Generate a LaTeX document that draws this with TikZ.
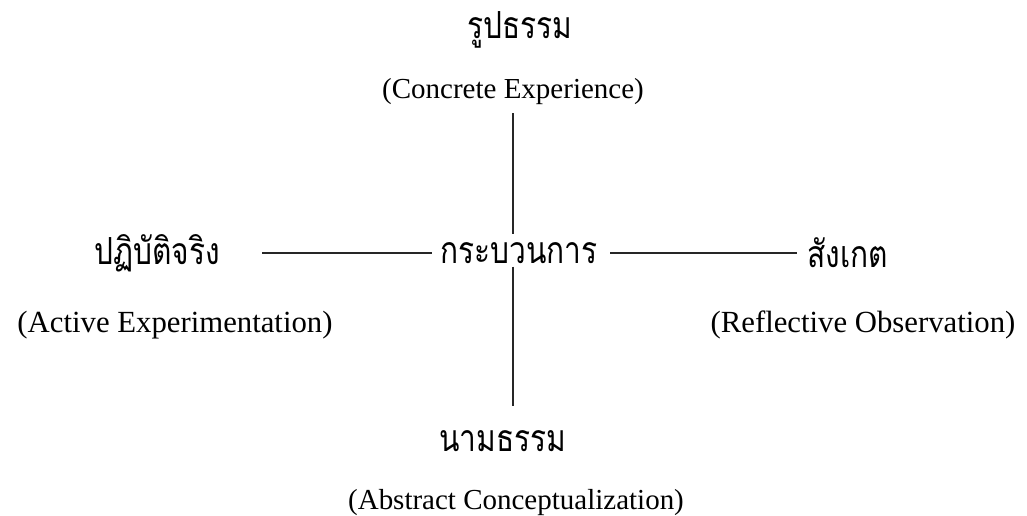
\documentclass[tikz,border=0pt]{standalone}
\usepackage{fontspec}
\setmainfont{Liberation Serif}
\newfontfamily\thaifont[Script=Thai]{Loma}
\usetikzlibrary{positioning}

% Thai glyphs in the scan are taller than Loma
\newcommand{\tallthai}[1]{\scalebox{1}[1.25]{#1}}

\begin{document}
\begin{tikzpicture}[
    x=0.02cm, y=-0.02cm,
    thai/.style={font=\thaifont\fontsize{17}{20}\selectfont, inner sep=0pt},
    eng/.style={font=\fontsize{16.5}{19}\selectfont, inner sep=0pt},
    engwide/.style={font=\fontsize{17.5}{20}\selectfont, inner sep=0pt},
    link/.style={line width=1.3pt, black!85}
]
\useasboundingbox (0,0) rectangle (1027,516);

% ==========================================
% Top: concrete side
\node[thai] (rup) at (520,30) {\tallthai{รูปธรรม}};
\node[eng] (conc) at (513,92) {(Concrete Experience)};

% ==========================================
% Middle row
\node[thai, anchor=west] (proc) at (440,253) {\tallthai{กระบวนการ}};
\node[thai, anchor=east] (act-th) at (220,253) {\tallthai{ปฏิบัติจริง}};
\node[thai, anchor=west] (obs-th) at (807,253) {\tallthai{สังเกต}};
\node[engwide] (act) at (175,325) {(Active Experimentation)};
\node[engwide] (obs) at (863,325) {(Reflective Observation)};

% ==========================================
% Bottom: abstract side
\node[thai] (nam) at (503,441) {\tallthai{นามธรรม}};
\node[eng] (abs) at (516,503) {(Abstract Conceptualization)};

% Connectors
\draw[link, shorten <=4.5pt, shorten >=4.5pt] (conc.south) -- (conc.south |- proc.north);
\draw[link, shorten <=1.5pt, shorten >=13.5pt] (conc.south |- proc.south) -- (conc.south |- nam.north);
\draw[link, shorten <=24pt, shorten >=4.5pt] (act-th.east) -- (proc.west);
\draw[link, shorten <=7pt, shorten >=5.5pt] (proc.east) -- (obs-th.west);

\end{tikzpicture}
\end{document}
